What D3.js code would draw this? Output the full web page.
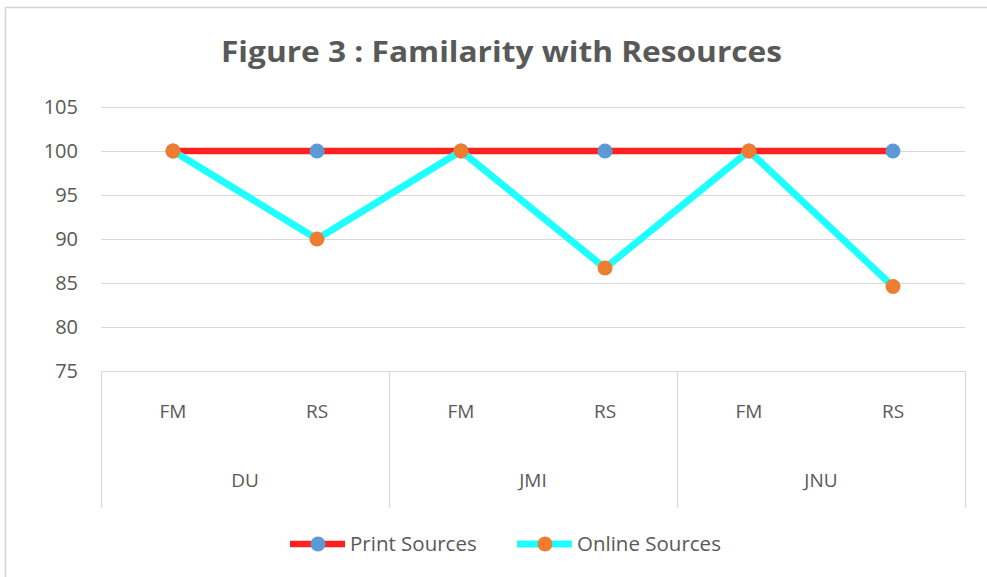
<!DOCTYPE html>
<html>
<head>
<meta charset="utf-8">
<script src="https://cdn.jsdelivr.net/npm/d3@7"></script>
<style>
  body { margin: 0; background: #fff; }
  svg text { font-family: "Open Sans", "Liberation Sans", sans-serif; fill: #595959; }
</style>
</head>
<body>
<div id="chart"></div>
<script>
// chart data
const groups = ["DU", "JMI", "JNU"];
const subCats = ["FM", "RS"];
const printSources = [100, 100, 100, 100, 100, 100];
const onlineSources = [100, 90, 100, 86.7, 100, 84.6];
const yTicks = [75, 80, 85, 90, 95, 100, 105];
const seriesNames = ["Print Sources", "Online Sources"];

const width = 987, height = 577;
const plot = { left: 101, right: 965, top: 107, bottom: 371 };

const svg = d3.select("#chart").append("svg")
    .attr("width", width)
    .attr("height", height);

// outer chart frame (top + left edges only visible)
svg.append("line").attr("x1", 5).attr("x2", width).attr("y1", 7.5).attr("y2", 7.5)
    .attr("stroke", "#d4d4d4").attr("stroke-width", 1.5);
svg.append("line").attr("x1", 5.5).attr("x2", 5.5).attr("y1", 7).attr("y2", height)
    .attr("stroke", "#d4d4d4").attr("stroke-width", 1.5);

// title
svg.append("text")
    .attr("x", (221 + 782) / 2)
    .attr("y", 62)
    .attr("text-anchor", "middle")
    .style("font-size", "28px")
    .style("font-weight", "bold")
    .attr("textLength", 561)
    .attr("lengthAdjust", "spacingAndGlyphs")
    .text("Figure 3 : Familarity with Resources");

// categories: one slot per group/sub pair
const cats = [];
groups.forEach(g => subCats.forEach(s => cats.push(g + "|" + s)));

const x = d3.scaleBand().domain(cats).range([plot.left, plot.right]);
const xGroup = d3.scaleBand().domain(groups).range([plot.left, plot.right]);
const y = d3.scaleLinear().domain([75, 105]).range([plot.bottom, plot.top]);
const cx = d => x(d) + x.bandwidth() / 2;

// gridlines
svg.append("g")
  .selectAll("line")
  .data(yTicks.filter(t => t > 75))
  .enter().append("line")
    .attr("x1", plot.left).attr("x2", plot.right)
    .attr("y1", d => Math.round(y(d)) + 0.5).attr("y2", d => Math.round(y(d)) + 0.5)
    .attr("stroke", "#d9d9d9").attr("stroke-width", 1.2);

// y-axis labels
const yAxis = d3.axisLeft(y).tickValues(yTicks).tickSize(0).tickPadding(23);
const yg = svg.append("g").attr("transform", `translate(${plot.left},0)`).call(yAxis);
yg.select(".domain").remove();
yg.selectAll("text").style("font-size", "20px").style("fill", "#595959").style("font-family", "\"Open Sans\", sans-serif");

// category axis box
const axisBottom = 508;
svg.append("line")
    .attr("x1", plot.left).attr("x2", plot.right)
    .attr("y1", plot.bottom + 0.5).attr("y2", plot.bottom + 0.5)
    .attr("stroke", "#d9d9d9").attr("stroke-width", 1.2);
const dividers = groups.map(g => xGroup(g)).concat([plot.right]);
svg.append("g").selectAll("line")
  .data(dividers)
  .enter().append("line")
    .attr("x1", d => Math.round(d) + 0.5).attr("x2", d => Math.round(d) + 0.5)
    .attr("y1", plot.bottom).attr("y2", axisBottom)
    .attr("stroke", "#d9d9d9").attr("stroke-width", 1.2);

svg.append("g").selectAll("text")
  .data(cats)
  .enter().append("text")
    .attr("x", d => cx(d))
    .attr("y", 418)
    .attr("text-anchor", "middle")
    .style("font-size", "19px")
    .text(d => d.split("|")[1]);

svg.append("g").selectAll("text")
  .data(groups)
  .enter().append("text")
    .attr("x", d => xGroup(d) + xGroup.bandwidth() / 2)
    .attr("y", 487)
    .attr("text-anchor", "middle")
    .style("font-size", "19px")
    .text(d => d);

// series
const series = [
  { name: seriesNames[0], values: printSources, line: "#ff2020", marker: "#5b9bd5", width: 6.5 },
  { name: seriesNames[1], values: onlineSources, line: "#1effff", marker: "#ed7d31", width: 7 }
];

const lineGen = d3.line()
    .x((d, i) => cx(cats[i]))
    .y(d => y(d));

series.forEach(s => {
  svg.append("path")
      .datum(s.values)
      .attr("d", lineGen)
      .attr("fill", "none")
      .attr("stroke", s.line)
      .attr("stroke-width", s.width)
      .attr("stroke-linejoin", "round");
  svg.append("g").selectAll("circle")
    .data(s.values)
    .enter().append("circle")
      .attr("cx", (d, i) => cx(cats[i]))
      .attr("cy", d => y(d))
      .attr("r", 7.5)
      .attr("fill", s.marker);
});

// legend
const legendX = [290, 517];
const legend = svg.append("g").selectAll("g")
  .data(series)
  .enter().append("g")
    .attr("transform", (d, i) => `translate(${legendX[i]},544)`);
legend.append("line")
    .attr("x1", 0).attr("x2", 55)
    .attr("stroke", d => d.line)
    .attr("stroke-width", d => d.width);
legend.append("circle")
    .attr("cx", 28).attr("r", 7.5)
    .attr("fill", d => d.marker);
legend.append("text")
    .attr("x", 60)
    .attr("y", 7)
    .style("font-size", "20.5px")
    .text(d => d.name);
</script>
</body>
</html>
